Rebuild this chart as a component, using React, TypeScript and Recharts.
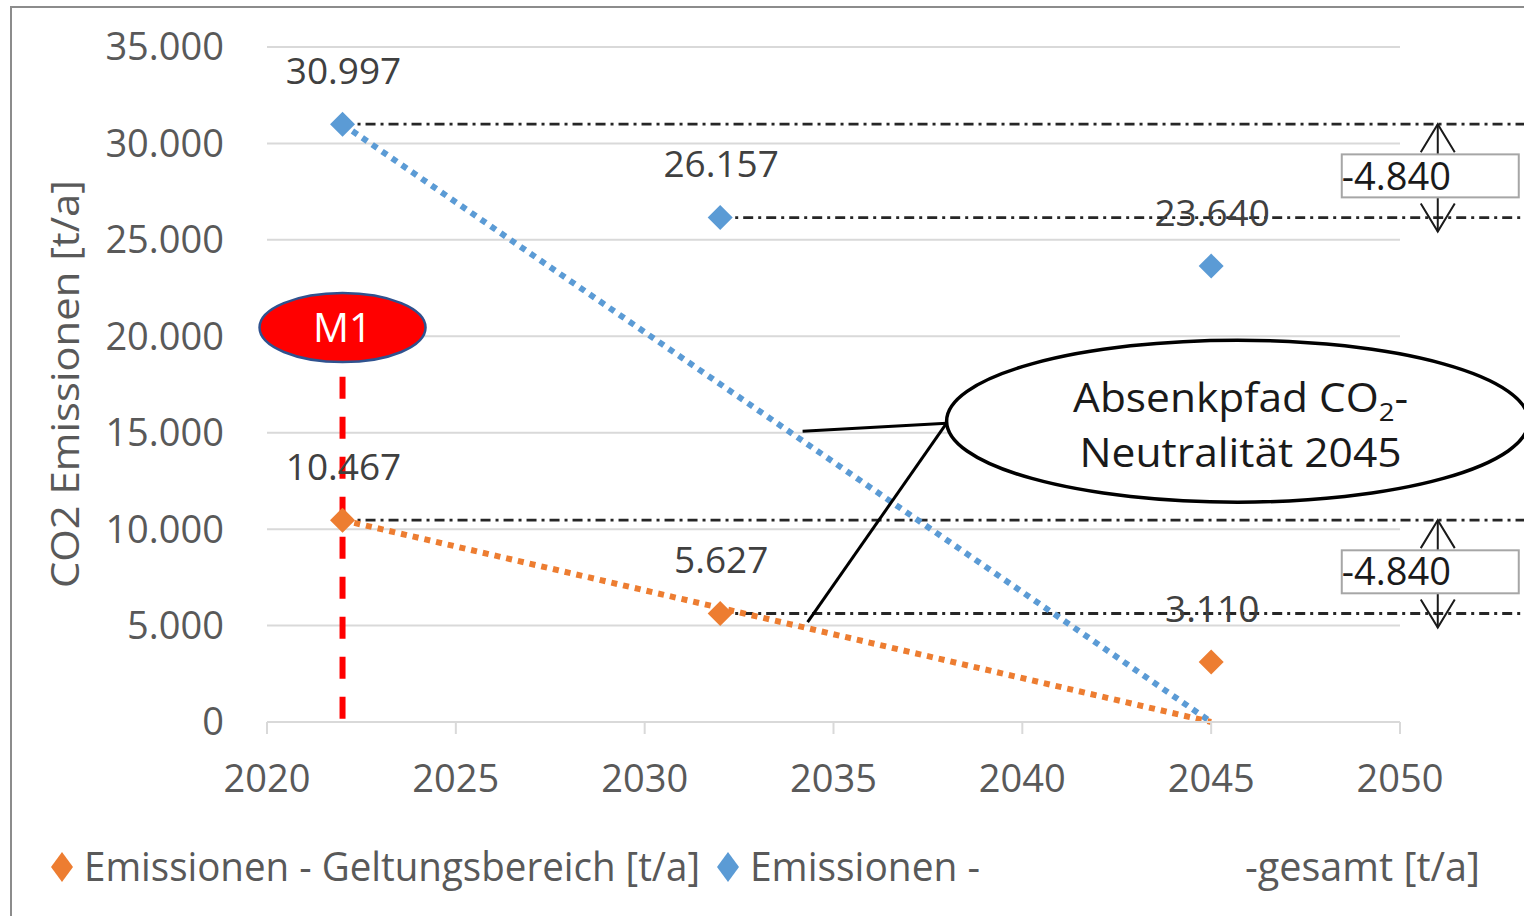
import React from 'react';
import {
  ComposedChart,
  Line,
  Scatter,
  XAxis,
  YAxis,
  CartesianGrid,
  ReferenceLine,
  ReferenceDot,
  LabelList,
  Legend,
} from 'recharts';

// ---------- data ----------
const years = [2022, 2032, 2045];
const geltungsbereich = [10467, 5627, 3110];
const gesamt = [30997, 26157, 23640];

const trendYears = [2022, 2045];
const trendGesamt = [30997, 0];
const trendGeltung = [10467, 0];

const xTicks = [2020, 2025, 2030, 2035, 2040, 2045, 2050];
const yTicks = [0, 5000, 10000, 15000, 20000, 25000, 30000, 35000];

const seriesNames = ['Emissionen - Geltungsbereich [t/a]', 'Emissionen -', '-gesamt [t/a]'];
const yAxisTitle = 'CO2 Emissionen [t/a]';
const calloutLines = ['Absenkpfad CO', '2', '-', 'Neutralität 2045'];
const m1Label = 'M1';

// annotation anchors (data space)
const lineEndYear = 2054;
const arrowYear = 2051;
const m1Year = 2022;
const m1LabelValue = 20450;
const m1LineTop = 17900;
const calloutYear = 2045.7;
const calloutValue = 15600;

// ---------- helpers ----------
const ORANGE = '#ED7D31';
const BLUE = '#5B9BD5';
const FONT = "'Open Sans', 'DejaVu Sans', sans-serif";
const fmt = (v: number) => {
  const s = String(Math.abs(v)).replace(/\B(?=(\d{3})+(?!\d))/g, '.');
  return (v < 0 ? '-' : '') + s;
};

const pts = (ys: number[]) => years.map((x, i) => ({ x, y: ys[i] }));
const geltData = pts(geltungsbereich);
const gesData = pts(gesamt);
const trendGesData = trendYears.map((x, i) => ({ x, y: trendGesamt[i] }));
const trendGelData = trendYears.map((x, i) => ({ x, y: trendGeltung[i] }));

// dash-dot level lines from the first two points of each series
const levelLines = [
  { x: years[0], y: gesamt[0] },
  { x: years[1], y: gesamt[1] },
  { x: years[0], y: geltungsbereich[0] },
  { x: years[1], y: geltungsbereich[1] },
];
const arrowPairs = [
  [gesamt[0], gesamt[1]],
  [geltungsbereich[0], geltungsbereich[1]],
];

const Diamond = (props: any) => {
  const { cx, cy, fill } = props;
  const r = 12.5;
  return <polygon points={`${cx},${cy - r} ${cx + r},${cy} ${cx},${cy + r} ${cx - r},${cy}`} fill={fill} />;
};

const renderValueLabel = (p: any) => {
  const cx = p.x + (p.width || 0) / 2;
  const cy = p.y + (p.height || 0) / 2;
  return (
    <text x={cx + 1} y={cy - 53} dy="0.35em" textAnchor="middle" fontSize={37} fill="#404040" fontFamily={FONT}>
      {fmt(p.value)}
    </text>
  );
};

const makeArrowShape = (diff: number) => (props: any) => {
  const { x1, y1, y2 } = props;
  const x = x1;
  const top = Math.min(y1, y2);
  const bot = Math.max(y1, y2) + 14;
  const boxCy = (Math.min(y1, y2) + Math.max(y1, y2)) / 2 + 5;
  return (
    <g>
      <line x1={x} y1={top} x2={x} y2={bot} stroke="#1a1a1a" strokeWidth={2} />
      <polyline points={`${x - 17},${top + 28} ${x},${top} ${x + 17},${top + 28}`} fill="none" stroke="#1a1a1a" strokeWidth={2} />
      <polyline points={`${x - 17},${bot - 28} ${x},${bot} ${x + 17},${bot - 28}`} fill="none" stroke="#1a1a1a" strokeWidth={2} />
      <rect x={x - 96} y={boxCy - 21.5} width={177} height={43} fill="#fff" stroke="#a6a6a6" strokeWidth={2} />
      <text x={x - 96} y={boxCy} dy="0.36em" fontSize={38} fill="#1a1a1a" fontFamily={FONT}>
        {fmt(diff)}
      </text>
    </g>
  );
};

const M1Shape = (props: any) => {
  const { cx, cy } = props;
  return (
    <g>
      <ellipse cx={cx} cy={cy} rx={83} ry={34.5} fill="#FF0000" stroke="#2F528F" strokeWidth={2.5} />
      <text x={cx} y={cy} dy="0.36em" textAnchor="middle" fontSize={40} fill="#fff" fontFamily={FONT}>
        {m1Label}
      </text>
    </g>
  );
};

const CalloutShape = (props: any) => {
  const { cx, cy } = props;
  const lx = cx - 291;
  const ly = cy + 2;
  return (
    <g>
      <line x1={lx} y1={ly} x2={cx - 435} y2={cy + 10} stroke="#000" strokeWidth={3} />
      <line x1={lx} y1={ly} x2={cx - 430} y2={cy + 201} stroke="#000" strokeWidth={3} />
      <ellipse cx={cx} cy={cy} rx={291} ry={81} fill="#fff" stroke="#000" strokeWidth={3.5} />
      <text x={cx + 3} y={cy - 9} textAnchor="middle" fontSize={40} fill="#1a1a1a" fontFamily={FONT} textLength={335} lengthAdjust="spacingAndGlyphs">
        {calloutLines[0]}
        <tspan fontSize={26} dy={9}>{calloutLines[1]}</tspan>
        <tspan dy={-9}>{calloutLines[2]}</tspan>
      </text>
      <text x={cx + 3} y={cy + 46} textAnchor="middle" fontSize={40} fill="#1a1a1a" fontFamily={FONT} textLength={322} lengthAdjust="spacingAndGlyphs">
        {calloutLines[3]}
      </text>
    </g>
  );
};

const LegendContent = () => {
  const d = (cx: number, fill: string) => (
    <polygon points={`${cx},${15} ${cx + 11},${30} ${cx},${45} ${cx - 11},${30}`} fill={fill} />
  );
  const t = (x: number, len: number, s: string) => (
    <text x={x} y={30} dy="0.36em" fontSize={40} fill="#595959" fontFamily={FONT} textLength={len} lengthAdjust="spacingAndGlyphs">
      {s}
    </text>
  );
  return (
    <svg width={1524} height={60} style={{ display: 'block' }}>
      {d(62, ORANGE)}
      {t(84, 616, seriesNames[0])}
      {d(728, BLUE)}
      {t(750, 230, seriesNames[1])}
      {t(1245, 235, seriesNames[2])}
    </svg>
  );
};

export default function App() {
  return (
    <div style={{ position: 'absolute', left: 0, top: 0, width: 1524, height: 916, background: '#fff', overflow: 'hidden' }}>
      <ComposedChart width={1524} height={916} margin={{ top: 47, right: 124, bottom: 74, left: 0 }}>
        <CartesianGrid vertical={false} stroke="#d9d9d9" strokeWidth={2} />
        <XAxis
          type="number"
          dataKey="x"
          domain={[2020, 2050]}
          ticks={xTicks}
          height={60}
          stroke="#d9d9d9"
          axisLine={{ stroke: '#d9d9d9', strokeWidth: 2 }}
          tickLine={{ stroke: '#d9d9d9', strokeWidth: 2 }}
          tickSize={12}
          tickMargin={31}
          tick={{ fontSize: 38, fill: '#595959', fontFamily: FONT }}
          allowDataOverflow
        />
        <YAxis
          type="number"
          dataKey="y"
          domain={[0, 35000]}
          ticks={yTicks}
          width={267}
          axisLine={false}
          tickLine={false}
          tickSize={0}
          tickMargin={43}
          tickFormatter={fmt}
          tick={{ fontSize: 38, fill: '#595959', fontFamily: FONT }}
          label={{
            value: yAxisTitle,
            angle: -90,
            position: 'insideLeft',
            offset: 0,
            content: () => (
              <text
                x={65}
                y={384}
                transform="rotate(-90 65 384)"
                textAnchor="middle"
                dy="0.36em"
                fontSize={38}
                fill="#595959"
                fontFamily={FONT}
                textLength={408}
                lengthAdjust="spacingAndGlyphs"
              >
                {yAxisTitle}
              </text>
            ),
          }}
        />
        <Legend
          verticalAlign="bottom"
          layout="horizontal"
          content={<LegendContent />}
          wrapperStyle={{ position: 'absolute', left: 0, top: 837, width: 1524, height: 60, margin: 0, padding: 0 }}
        />

        {levelLines.map((p, i) => (
          <ReferenceLine
            key={'lvl' + i}
            segment={[{ x: p.x, y: p.y }, { x: lineEndYear, y: p.y }]}
            stroke="#262626"
            strokeWidth={2.8}
            strokeDasharray="10 5 3 5"
            ifOverflow="visible"
          />
        ))}

        <Line
          data={trendGesData}
          dataKey="y"
          stroke={BLUE}
          strokeWidth={6}
          strokeDasharray="6 6"
          dot={false}
          activeDot={false}
          legendType="none"
          isAnimationActive={false}
        />
        <Line
          data={trendGelData}
          dataKey="y"
          stroke={ORANGE}
          strokeWidth={6}
          strokeDasharray="6 6"
          dot={false}
          activeDot={false}
          legendType="none"
          isAnimationActive={false}
        />

        <Scatter name={seriesNames[0]} data={geltData} dataKey="y" fill={ORANGE} shape={<Diamond />} isAnimationActive={false}>
          <LabelList dataKey="y" content={renderValueLabel} />
        </Scatter>
        <Scatter name={seriesNames[1]} data={gesData} dataKey="y" fill={BLUE} shape={<Diamond />} isAnimationActive={false}>
          <LabelList dataKey="y" content={renderValueLabel} />
        </Scatter>

        {arrowPairs.map((pair, i) => (
          <ReferenceLine
            key={'arr' + i}
            segment={[{ x: arrowYear, y: pair[0] }, { x: arrowYear, y: pair[1] }]}
            ifOverflow="visible"
            shape={makeArrowShape(pair[1] - pair[0])}
          />
        ))}

        <ReferenceDot x={calloutYear} y={calloutValue} ifOverflow="visible" shape={CalloutShape} />

        <ReferenceLine
          segment={[{ x: m1Year, y: m1LineTop }, { x: m1Year, y: 0 }]}
          stroke="#FF0000"
          strokeWidth={6}
          strokeDasharray="22 18"
          ifOverflow="visible"
        />
        <ReferenceDot x={m1Year} y={m1LabelValue} ifOverflow="visible" shape={M1Shape} />
      </ComposedChart>
      <div
        style={{
          position: 'absolute',
          left: 10,
          top: 6,
          width: 1524,
          height: 916,
          borderLeft: '2px solid #8c8c8c',
          borderTop: '2px solid #8c8c8c',
          pointerEvents: 'none',
        }}
      />
    </div>
  );
}
